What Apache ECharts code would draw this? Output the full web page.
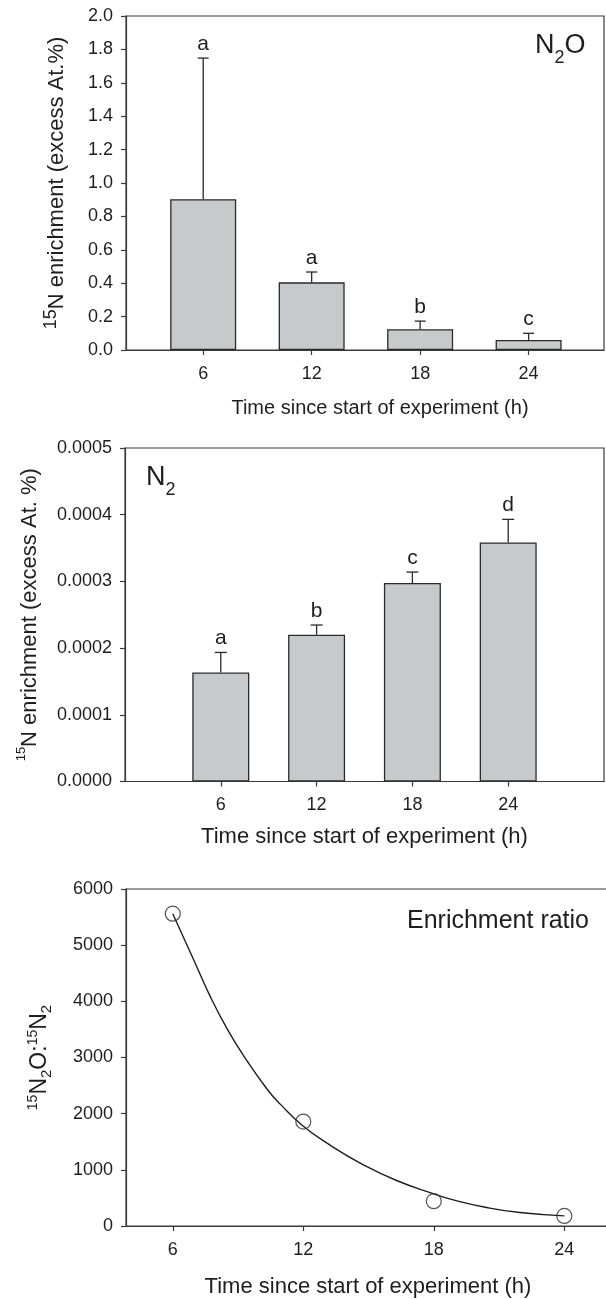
<!DOCTYPE html>
<html>
<head>
<meta charset="utf-8">
<script src="https://cdn.jsdelivr.net/npm/echarts@6/dist/echarts.min.js"></script>
<style>
html,body{margin:0;padding:0;background:#fff;}
#c{width:606px;height:1299px;}
</style>
</head>
<body>
<div id="c"></div>
<script>
// ---- data ----
const hours = [6, 12, 18, 24];
const n2oMean = [0.903, 0.405, 0.125, 0.06];
const n2oErr = [0.845, 0.062, 0.048, 0.04];
const n2oLetters = ['a', 'a', 'b', 'c'];
const n2Mean = [0.0001635, 0.00022, 0.0002976, 0.0003585];
const n2Err = [0.00003, 0.0000146, 0.0000164, 0.0000345];
const n2Letters = ['a', 'b', 'c', 'd'];
const ratioObs = [5560, 1860, 442, 179];
const fitHours = [6, 6.97, 7.73, 8.5, 9.26, 10.33, 10.94, 11.96, 13.23, 14.76, 16.29, 17.97, 18.89, 20.42, 21.95, 24];
const fitRatio = [5560, 4730, 4080, 3510, 3030, 2440, 2170, 1790, 1440, 1090, 810, 575, 465, 330, 240, 180];

// ---- styles ----
const FONT = '"Liberation Sans", Arial, Helvetica, sans-serif';
const TXT = '#1e1e1e';
const AX = '#3a3a3a';
const BAR = '#c8c9cb';

function xAxisCfg(gi, min, max, gap, fs, pad) {
  return {
    type: 'value', gridIndex: gi, min: min, max: max,
    axisLine: {show: true, lineStyle: {color: AX, width: 1.2}},
    axisTick: {show: true, length: 5, inside: false, customValues: hours, lineStyle: {color: AX, width: 1.2}},
    axisLabel: {customValues: hours, margin: 15, fontSize: 18, color: TXT, fontFamily: FONT},
    splitLine: {show: false},
    name: 'Time since start of experiment (h)', nameLocation: 'middle', nameGap: gap,
    nameTextStyle: {fontSize: fs, color: TXT, fontFamily: FONT, padding: pad || 0}
  };
}
function yAxisCfg(gi, min, max, interval, fmt, name, gap, rich) {
  return {
    type: 'value', gridIndex: gi, min: min, max: max, interval: interval,
    axisLine: {show: true, lineStyle: {color: AX, width: 1.2}},
    axisTick: {show: true, length: 5, lineStyle: {color: AX, width: 1.2}},
    axisLabel: {margin: 13, fontSize: 18, color: TXT, fontFamily: FONT, formatter: fmt},
    splitLine: {show: false},
    name: name, nameLocation: 'middle', nameGap: gap, nameRotate: 90,
    nameTextStyle: {fontSize: 22, color: TXT, fontFamily: FONT, rich: rich}
  };
}

function errRender(letters, cap) {
  return function (params, api) {
    const x = api.value(0), v = api.value(1), e = api.value(2);
    const p0 = api.coord([x, v]);
    const p1 = api.coord([x, v + e]);
    const ls = {stroke: '#2a2a2a', lineWidth: 1.3};
    return {
      type: 'group',
      children: [
        {type: 'line', shape: {x1: p0[0], y1: p0[1], x2: p1[0], y2: p1[1]}, style: ls},
        {type: 'line', shape: {x1: p1[0] - cap / 2, y1: p1[1], x2: p1[0] + cap / 2, y2: p1[1]}, style: ls},
        {type: 'text', style: {text: letters[params.dataIndex], x: p1[0], y: p1[1] - 14,
          align: 'center', verticalAlign: 'middle', fontSize: 21, fontFamily: FONT, fill: TXT}}
      ]
    };
  };
}

const supRich = {
  sup: {fontSize: 13, lineHeight: 13, verticalAlign: 'top', fontFamily: FONT, color: TXT},
  supb: {fontSize: 18, lineHeight: 18, verticalAlign: 'top', fontFamily: FONT, color: TXT},
  m: {fontSize: 22, lineHeight: 26, verticalAlign: 'bottom', fontFamily: FONT, color: TXT}
};
const ratioRich = {
  sup: {fontSize: 14, lineHeight: 14, verticalAlign: 'top', fontFamily: FONT, color: TXT},
  m: {fontSize: 23, lineHeight: 28, verticalAlign: 'middle', fontFamily: FONT, color: TXT},
  sub: {fontSize: 15, lineHeight: 15, verticalAlign: 'bottom', fontFamily: FONT, color: TXT}
};

const gridBase = {show: true, borderColor: AX, borderWidth: 1.2, backgroundColor: 'transparent', outerBoundsMode: 'none', containLabel: false};

const chart = echarts.init(document.getElementById('c'), null, {renderer: 'canvas'});
const option = {
  backgroundColor: '#fff',
  animation: false,
  grid: [
    Object.assign({left: 126, top: 16, width: 478, height: 334}, gridBase),
    Object.assign({left: 125, top: 448, width: 479, height: 333.5}, gridBase),
    Object.assign({left: 126, top: 889, width: 484, height: 337}, gridBase)
  ],
  xAxis: [
    xAxisCfg(0, 1.73, 28.17, 48, 20, [0, 0, 0, 30]),
    xAxisCfg(1, 0, 30, 44, 22),
    xAxisCfg(2, 3.85, 26.1, 50, 22)
  ],
  yAxis: [
    yAxisCfg(0, 0, 2.0, 0.2, v => v.toFixed(1), '{supb|15}{m|N enrichment (excess At.%)}', 58, supRich),
    yAxisCfg(1, 0, 0.0005, 0.0001, v => v.toFixed(4), '{sup|15}{m|N enrichment (excess At. %)}', 84, supRich),
    yAxisCfg(2, 0, 6000, 1000, v => String(Math.round(v)), '{sup|15}{m|N}{sub|2}{m|O:}{sup|15}{m|N}{sub|2}', 72, ratioRich)
  ],
  graphic: [
    {type: 'text', left: 535, top: 32, style: {
      text: '{m|N}{s|2}{m|O}', rich: {
        m: {fontSize: 27, lineHeight: 30, verticalAlign: 'top', fontFamily: FONT, fill: TXT},
        s: {fontSize: 18, lineHeight: 18, verticalAlign: 'top', padding: [17, 0, 0, 0], fontFamily: FONT, fill: TXT}
      }}},
    {type: 'text', left: 146, top: 464, style: {
      text: '{m|N}{s|2}', rich: {
        m: {fontSize: 27, lineHeight: 30, verticalAlign: 'top', fontFamily: FONT, fill: TXT},
        s: {fontSize: 18, lineHeight: 18, verticalAlign: 'top', padding: [17, 0, 0, 0], fontFamily: FONT, fill: TXT}
      }}},
    {type: 'text', left: 407, top: 909, style: {text: 'Enrichment ratio', fontSize: 25, fontFamily: FONT, fill: TXT}}
  ],
  series: [
    {type: 'bar', xAxisIndex: 0, yAxisIndex: 0, barWidth: 66,
      itemStyle: {color: BAR, borderColor: '#2a2a2a', borderWidth: 1.3},
      data: hours.map((h, i) => [h, n2oMean[i]]), z: 2},
    {type: 'custom', xAxisIndex: 0, yAxisIndex: 0, renderItem: errRender(n2oLetters, 11),
      data: hours.map((h, i) => [h, n2oMean[i], n2oErr[i]]), z: 3},
    {type: 'bar', xAxisIndex: 1, yAxisIndex: 1, barWidth: 57,
      itemStyle: {color: BAR, borderColor: '#2a2a2a', borderWidth: 1.3},
      data: hours.map((h, i) => [h, n2Mean[i]]), z: 2},
    {type: 'custom', xAxisIndex: 1, yAxisIndex: 1, renderItem: errRender(n2Letters, 12),
      data: hours.map((h, i) => [h, n2Mean[i], n2Err[i]]), z: 3},
    {type: 'line', xAxisIndex: 2, yAxisIndex: 2, smooth: 0.5, showSymbol: false,
      lineStyle: {color: '#1e1e1e', width: 1.4},
      data: fitHours.map((h, i) => [h, fitRatio[i]]), z: 2},
    {type: 'scatter', xAxisIndex: 2, yAxisIndex: 2, symbol: 'circle', symbolSize: 15,
      itemStyle: {color: 'transparent', borderColor: '#2a2a2a', borderWidth: 1.2},
      data: hours.map((h, i) => [h, ratioObs[i]]), z: 3}
  ]
};
chart.setOption(option);
</script>
</body>
</html>
